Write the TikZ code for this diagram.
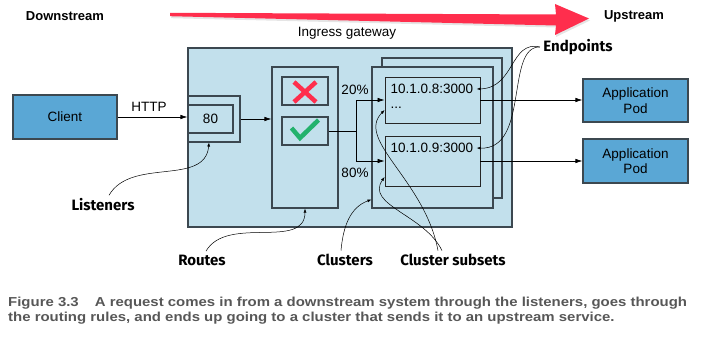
\documentclass[tikz,border=0pt]{standalone}
\usepackage{fontspec}
\setmainfont{Liberation Sans}
\newfontfamily\notefont{Fira Sans}
\newfontfamily\capfont[FakeStretch=1.15]{Liberation Sans}
\usetikzlibrary{arrows.meta,positioning}

\definecolor{gwblue}{HTML}{C2E0EC}
\definecolor{podblue}{HTML}{5AA7D5}
\definecolor{edge}{HTML}{3C4850}
\definecolor{flowred}{HTML}{FF2E4D}
\definecolor{okgreen}{HTML}{23B26D}
\definecolor{capgray}{HTML}{575757}

\begin{document}
\begin{tikzpicture}[
  x=1pt, y=-1pt,
  box/.style={draw=edge,line width=1.1pt,fill=gwblue,inner sep=0pt},
  pod/.style={box,fill=podblue,align=center,font=\fontsize{13.5}{15.5}\selectfont},
  subbox/.style={draw=black!85,line width=0.8pt,fill=gwblue,inner sep=0pt},
  txt/.style={font=\fontsize{13.5}{15.5}\selectfont},
  hdr/.style={font=\bfseries\fontsize{13}{15}\selectfont},
  lbl/.style={font=\notefont\bfseries\fontsize{15}{17}\selectfont},
  captxt/.style={font=\capfont\bfseries\fontsize{13}{15}\selectfont,text=capgray,inner sep=0pt},
  flow/.style={-{Latex[length=7pt,width=4.5pt]},line width=0.7pt},
  note/.style={-{Latex[length=4pt,width=3pt]},line width=0.5pt}
]
  \useasboundingbox (0,0) rectangle (701,337);

  % downstream -> upstream
  \fill[black,opacity=0.10] (171,14.8) -- (557,16.5) -- (556,6) -- (590,20.5) -- (556,37) -- (557,27.5) -- (171,18.2) -- cycle;
  \fill[flowred] (170,12.8) -- (556,14.5) -- (555,4) -- (589,18.5) -- (555,35) -- (556,25.5) -- (170,16.2) -- cycle;
  \node[hdr] (down) at (65,16) {Downstream};
  \node[hdr] (up) at (634,16) {Upstream};

  % gateway
  \node[box,minimum width=324pt,minimum height=179pt] (gw) at (350,137.5) {};
  \node[txt] (ingr) at (347,33) {Ingress gateway};

  \node[pod,minimum width=104pt,minimum height=44pt] (client) at (65,117) {Client};
  \node[txt] (http) at (149,107) {HTTP};

  % listener
  \node[box,minimum width=52pt,minimum height=46pt] (lsn) at (214,119) {};
  \node[box,minimum width=45pt,minimum height=28pt,txt] (port) at (210.5,119) {80};

  % routes
  \node[box,minimum width=66pt,minimum height=141pt] (rte) at (305,137.5) {};
  \node[box,minimum width=46pt,minimum height=28pt] (deny) at (305,91) {};
  \node[box,minimum width=46pt,minimum height=28pt] (chk) at (305,131) {};
  \draw[flowred,line width=4.5pt] (294,82) -- (316,102) (316,82) -- (294,102);
  \draw[okgreen,line width=4.5pt] (291.5,128) -- (300,138) -- (318.5,120);

  % clusters
  \node[box,minimum width=120pt,minimum height=140pt] (clb) at (442,128) {};
  \node[box,minimum width=121pt,minimum height=141pt] (clf) at (432.5,137.5) {};
  \node[subbox,minimum width=95pt,minimum height=46pt] (sub1) at (432.5,100) {};
  \node[subbox,minimum width=95pt,minimum height=50pt] (sub2) at (432.5,161) {};
  \node[txt,anchor=west] (ep1) at (387,89) {10.1.0.8:3000};
  \node[txt,anchor=west] (dots) at (387,108) {...};
  \node[txt,anchor=west] (ep2) at (387,148) {10.1.0.9:3000};

  % pods
  \node[pod,minimum width=105pt,minimum height=43pt] (pod1) at (635.5,100.5) {Application\\Pod};
  \node[pod,minimum width=105pt,minimum height=44pt] (pod2) at (635.5,161) {Application\\Pod};

  % traffic
  \draw[flow] (client.east) -- (client.east -| lsn.west);
  \draw[flow] (lsn.east) -- (lsn.east -| rte.west);
  \coordinate (split) at (356,131);
  \draw[line width=0.7pt] (chk.east) -- (split);
  \draw[flow] (split) |- (sub1.west);
  \draw[flow] (split) |- (sub2.west);
  \node[txt] (p20) at (355,90) {20\%};
  \node[txt] (p80) at (355,173) {80\%};
  \draw[flow] (sub1.east) -- (sub1.east -| pod1.west);
  \draw[flow] (sub2.east) -- (sub2.east -| pod2.west);

  % callouts
  \node[lbl] (lis) at (103,205) {Listeners};
  \node[lbl] (rts) at (202,260) {Routes};
  \node[lbl] (cls) at (345,260) {Clusters};
  \node[lbl] (css) at (453,260) {Cluster subsets};
  \node[lbl] (endp) at (578,47) {Endpoints};
  \draw[note] ([xshift=6pt]lis.north) to[out=60,in=-95] ([xshift=-5pt]lsn.south);
  \draw[note] ([xshift=4pt]rts.north) to[out=60,in=-90] (rte.south);
  \draw[note] ([xshift=-4pt]cls.north) to[out=85,in=200] ([yshift=9pt]clf.south west);
  \draw[note] ([xshift=-15pt]css.north) .. controls (425,180) and (355,140) .. ([yshift=-10pt]sub1.west);
  \draw[note] ([xshift=-11pt]css.north) .. controls (425,215) and (365,205) .. ([yshift=-16pt]sub2.west);
  \draw[note] (endp.west) .. controls (510,40) and (515,88) .. (ep1.east);
  \draw[note] (endp.west) .. controls (505,46) and (530,150) .. (ep2.east);

  % caption
  \node[captxt,anchor=base west] (cap1) at (8,306) {Figure 3.3\hspace{16pt}A request comes in from a downstream system through the listeners, goes through};
  \node[captxt,anchor=base west] (cap2) at (8,321) {the routing rules, and ends up going to a cluster that sends it to an upstream service.};
\end{tikzpicture}
\end{document}
